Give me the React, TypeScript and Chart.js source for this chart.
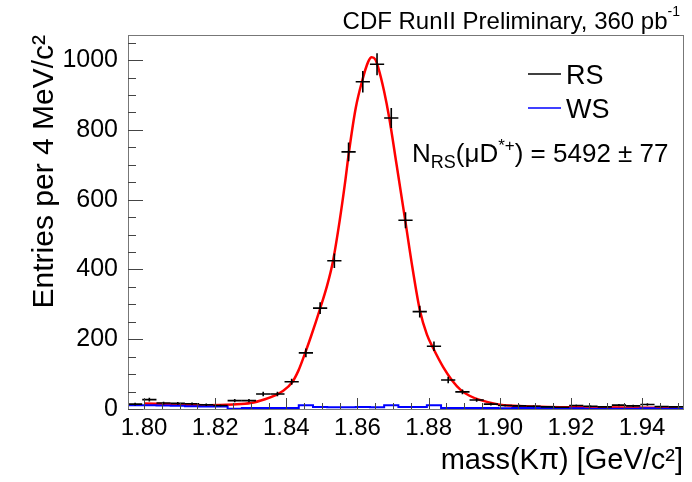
import React, { useEffect, useRef } from "react";
import { Chart, registerables } from "chart.js";

Chart.register(...registerables);

const FONT = '"Liberation Sans", Arial, Helvetica, sans-serif';

// Histogram binning (4 MeV bins)
const X_MIN = 1.7955;
const X_MAX = 1.9515;
const HALF_BIN = 0.002;

const massBins = [
  1.7975, 1.8015, 1.8055, 1.8095, 1.8135, 1.8175, 1.8215, 1.8255, 1.8295, 1.8335,
  1.8375, 1.8415, 1.8455, 1.8495, 1.8535, 1.8575, 1.8615, 1.8655, 1.8695, 1.8735,
  1.8775, 1.8815, 1.8855, 1.8895, 1.8935, 1.8975, 1.9015, 1.9055, 1.9095, 1.9135,
  1.9175, 1.9215, 1.9255, 1.9295, 1.9335, 1.9375, 1.9415, 1.9455, 1.9495,
];

// Right-sign entries (black points with errors)
const rsCounts = [
  14, 27, 17, 16, 15, 12, 10, 24, 24, 43,
  43, 78, 161, 289, 425, 737, 938, 988, 834, 541,
  279, 180, 83, 49, 26, 14, 10, 9, 8, 6,
  5, 10, 8, 6, 11, 9, 13, 7, 6,
];

// Wrong-sign entries (blue histogram)
const wsCounts = [
  7, 11, 11, 10, 9, 8, 7, 7, 1, 3,
  3, 3, 3, 11, 6, 5, 5, 6, 5, 11,
  6, 6, 11, 3, 3, 3, 3, 2, 3, 3,
  3, 2, 2, 1, 0, 1, 1, 2, 1,
];

// Fit curve (red)
const fitMass = [
  1.8, 1.81, 1.818, 1.825, 1.83, 1.834, 1.837, 1.8388, 1.8416, 1.8434,
  1.8452, 1.847, 1.8495, 1.8515, 1.8531, 1.855, 1.8565, 1.8576, 1.8595, 1.8613,
  1.863, 1.864, 1.865, 1.8658, 1.8675, 1.8689, 1.871, 1.8734, 1.8755, 1.8776,
  1.8795, 1.8813, 1.8841, 1.8866, 1.889, 1.8915, 1.8944, 1.8992, 1.9037, 1.9133,
  1.9273, 1.95,
];
const fitValue = [
  16, 13, 11, 13, 17, 28, 40, 50, 76, 110,
  158, 210, 288, 355, 423, 540, 648, 736, 862, 940,
  995, 1008, 1002, 980, 910, 836, 700, 542, 402, 280,
  214, 174, 120, 82, 55, 38, 26, 14, 9, 6,
  5, 3,
];

const xTickValues = [1.8, 1.82, 1.84, 1.86, 1.88, 1.9, 1.92, 1.94];
const yTickValues = [0, 200, 400, 600, 800, 1000];
const Y_MAX = 1072;
const X_MINOR = 0.005;
const Y_MINOR = 50;

const titleText = "CDF RunII Preliminary, 360 pb";
const titleSup = "-1";
const xTitle = "mass(Kπ) [GeV/c²]";
const yTitle = "Entries per 4 MeV/c²";
const legendItems = [
  { label: "RS", color: "#000000" },
  { label: "WS", color: "#0000ff" },
];
const yieldValue = "5492";
const yieldError = "77";

type Part = { t: string; size: number; dy: number };

function drawRich(ctx: CanvasRenderingContext2D, x: number, y: number, parts: Part[]) {
  for (const p of parts) {
    ctx.font = `${p.size}px ${FONT}`;
    ctx.fillText(p.t, x, y + p.dy);
    x += ctx.measureText(p.t).width;
  }
  return x;
}

const rootStylePlugin = {
  id: "rootStyle",
  beforeDatasetsDraw(chart: any) {
    const ctx: CanvasRenderingContext2D = chart.ctx;
    const { left, right, top, bottom } = chart.chartArea;
    ctx.save();
    ctx.fillStyle = "#ffffff";
    ctx.fillRect(left, top, right - left, bottom - top);
    ctx.restore();
  },
  afterDatasetsDraw(chart: any) {
    const ctx: CanvasRenderingContext2D = chart.ctx;
    const xs = chart.scales.x;
    const ys = chart.scales.y;
    const { left, right, top, bottom } = chart.chartArea;

    // error bars for RS points
    ctx.save();
    ctx.beginPath();
    ctx.rect(left, top, right - left, bottom - top);
    ctx.clip();
    ctx.strokeStyle = "#000";
    ctx.lineWidth = 1.6;
    const meta = chart.getDatasetMeta(2);
    meta.data.forEach((pt: any, i: number) => {
      const v = rsCounts[i];
      const m = massBins[i];
      const err = Math.sqrt(v);
      const x0 = xs.getPixelForValue(m - HALF_BIN);
      const x1 = xs.getPixelForValue(m + HALF_BIN);
      const y0 = ys.getPixelForValue(v - err);
      const y1 = ys.getPixelForValue(v + err);
      ctx.beginPath();
      ctx.moveTo(x0, pt.y);
      ctx.lineTo(x1, pt.y);
      ctx.moveTo(pt.x, y0);
      ctx.lineTo(pt.x, y1);
      ctx.stroke();
    });
    ctx.restore();

    // frame
    ctx.save();
    ctx.strokeStyle = "#777";
    ctx.lineWidth = 1;
    ctx.strokeRect(Math.round(left) + 0.5, Math.round(top) + 0.5, Math.round(right - left), Math.round(bottom - top));

    // inner ticks
    ctx.strokeStyle = "#444";
    ctx.beginPath();
    for (let i = 0; ; i++) {
      const v = 1.8 - X_MINOR + i * X_MINOR;
      if (v > X_MAX) break;
      if (v < X_MIN) continue;
      const major = xTickValues.some((t) => Math.abs(t - v) < 1e-6);
      const px = Math.round(xs.getPixelForValue(v)) + 0.5;
      ctx.moveTo(px, bottom);
      ctx.lineTo(px, bottom - (major ? 11 : 6));
    }
    for (let i = 0; ; i++) {
      const v = i * Y_MINOR;
      if (v > Y_MAX) break;
      const major = yTickValues.includes(v);
      const py = Math.round(ys.getPixelForValue(v)) + 0.5;
      ctx.moveTo(left, py);
      ctx.lineTo(left + (major ? 15 : 8), py);
    }
    ctx.stroke();
    ctx.restore();

    // texts
    ctx.save();
    ctx.fillStyle = "#000";
    ctx.textBaseline = "alphabetic";
    ctx.textAlign = "left";

    // top-right title
    ctx.font = `24px ${FONT}`;
    const wMain = ctx.measureText(titleText).width;
    ctx.font = `14px ${FONT}`;
    const wSup = ctx.measureText(titleSup).width;
    drawRich(ctx, 680 - wMain - wSup, 29, [
      { t: titleText, size: 24, dy: 0 },
      { t: titleSup, size: 14, dy: -13 },
    ]);

    // legend
    legendItems.forEach((item, i) => {
      const ly = 74 + i * 34;
      ctx.strokeStyle = item.color;
      ctx.lineWidth = 1.5;
      ctx.beginPath();
      ctx.moveTo(528, ly);
      ctx.lineTo(561, ly);
      ctx.stroke();
      ctx.font = `27px ${FONT}`;
      ctx.fillText(item.label, 566, ly + 9.5);
    });

    // yield annotation
    drawRich(ctx, 412, 162, [
      { t: "N", size: 26, dy: 0 },
      { t: "RS", size: 18, dy: 6 },
      { t: "(μD", size: 26, dy: 0 },
      { t: "*+", size: 17, dy: -11 },
      { t: ") = " + yieldValue + " ± " + yieldError, size: 26, dy: 0 },
    ]);
    ctx.restore();
  },
};

export default function App() {
  const ref = useRef<HTMLCanvasElement>(null);

  useEffect(() => {
    document.body.style.margin = "0";
    const canvas = ref.current;
    if (!canvas) return;

    const wsSteps = massBins.map((m, i) => ({ x: m - HALF_BIN, y: wsCounts[i] }));
    wsSteps.push({ x: massBins[massBins.length - 1] + HALF_BIN, y: wsCounts[wsCounts.length - 1] });

    const chart = new Chart(canvas, {
      type: "scatter",
      data: {
        datasets: [
          {
            type: "line",
            label: "WS",
            data: wsSteps,
            stepped: "after",
            borderColor: "#0000ff",
            borderWidth: 2,
            pointRadius: 0,
            fill: false,
          } as any,
          {
            type: "line",
            label: "fit",
            data: fitMass.map((x, i) => ({ x, y: fitValue[i] })),
            cubicInterpolationMode: "monotone",
            borderColor: "#ff0000",
            borderWidth: 2.5,
            pointRadius: 0,
            fill: false,
          } as any,
          {
            type: "scatter",
            label: "RS",
            data: massBins.map((x, i) => ({ x, y: rsCounts[i] })),
            pointRadius: 0,
            showLine: false,
          } as any,
        ],
      },
      options: {
        responsive: false,
        animation: false,
        devicePixelRatio: 1,
        layout: { padding: { top: 35, right: 9, left: 0, bottom: 0 } },
        plugins: {
          legend: { display: false },
          tooltip: { enabled: false },
          title: { display: false },
        },
        scales: {
          x: {
            type: "linear",
            min: X_MIN,
            max: X_MAX,
            afterFit: (s: any) => {
              s.height = 73;
            },
            afterBuildTicks: (s: any) => {
              s.ticks = xTickValues.map((v) => ({ value: v }));
            },
            ticks: {
              callback: (v: any) => Number(v).toFixed(2),
              font: { family: FONT, size: 24 },
              color: "#000",
              padding: 5,
              maxRotation: 0,
              autoSkip: false,
            },
            grid: { display: false, drawTicks: false },
            border: { display: false },
            title: {
              display: true,
              text: xTitle,
              align: "end",
              color: "#000",
              font: { family: FONT, size: 29 },
              padding: { top: 0, bottom: 4 },
            },
          },
          y: {
            type: "linear",
            min: 0,
            max: Y_MAX,
            afterFit: (s: any) => {
              s.width = 128;
            },
            afterBuildTicks: (s: any) => {
              s.ticks = yTickValues.map((v) => ({ value: v }));
            },
            ticks: {
              callback: (v: any) => String(v),
              font: { family: FONT, size: 25 },
              color: "#000",
              padding: 10,
            },
            grid: { display: false, drawTicks: false },
            border: { display: false },
            title: {
              display: true,
              text: yTitle,
              align: "end",
              color: "#000",
              font: { family: FONT, size: 30 },
              padding: { top: 27, bottom: 0 },
            },
          },
        },
      } as any,
      plugins: [rootStylePlugin],
    });

    return () => chart.destroy();
  }, []);

  return (
    <div style={{ position: "absolute", left: 0, top: 0, width: 692, height: 482, background: "#fff" }}>
      <canvas ref={ref} width={692} height={482} style={{ width: 692, height: 482, display: "block" }} />
    </div>
  );
}
